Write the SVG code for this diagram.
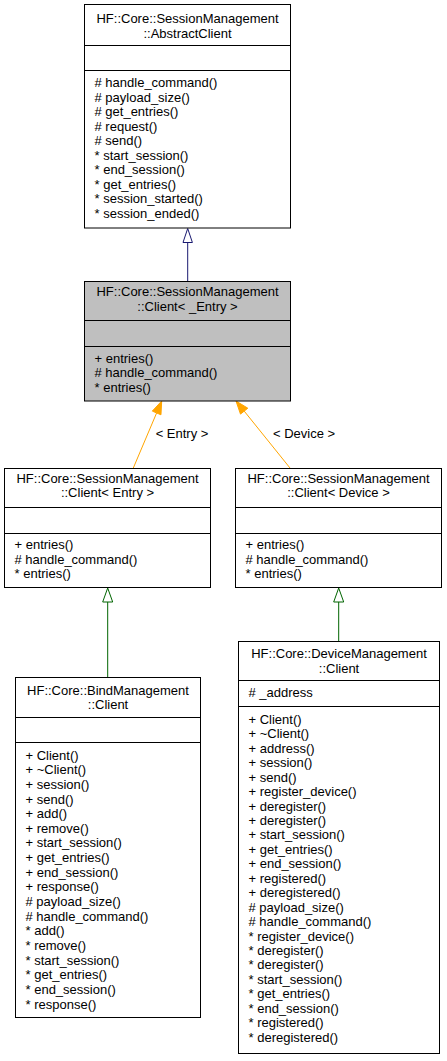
<svg xmlns="http://www.w3.org/2000/svg" width="447" height="1061" viewBox="0 0 447 1061">
<style>
text{font-family:"Liberation Sans",Arial,Helvetica,sans-serif;font-size:13px;fill:#000}
.c{text-anchor:middle}
.box{fill:#fff;stroke:#000;stroke-width:1}
.gray{fill:#bfbfbf}
.div{stroke:#000;stroke-width:1}
.navy{stroke:#191970;stroke-width:1;fill:none}
.navyh{stroke:#191970;stroke-width:1;fill:#fff}
.org{stroke:#ffa500;stroke-width:1;fill:none}
.orgh{stroke:#ffa500;stroke-width:1;fill:#ffa500}
.grn{stroke:#006400;stroke-width:1;fill:none}
.grnh{stroke:#006400;stroke-width:1;fill:#fff}
</style>
<rect width="447" height="1061" fill="#fff"/>
<g id="connectors">
<line class="navy" x1="187.7" y1="242.5" x2="187.7" y2="281"/>
<polygon class="navyh" points="187.7,228.5 183,242.5 192.4,242.5"/>
<line class="org" x1="133.3" y1="468" x2="156.6" y2="413"/>
<polygon class="orgh" points="161.7,401 160.95,414.8 152.3,411.1"/>
<text class="c" x="182" y="438">&lt; Entry &gt;</text>
<line class="org" x1="290" y1="468" x2="244.2" y2="411.1"/>
<polygon class="orgh" points="236,401 247.8,408.2 240.5,414.1"/>
<text class="c" x="304" y="438">&lt; Device &gt;</text>
<line class="grn" x1="107.7" y1="602" x2="107.7" y2="677.5"/>
<polygon class="grnh" points="107.7,588 102.7,602 112.7,602"/>
<line class="grn" x1="338.7" y1="602" x2="338.7" y2="641.5"/>
<polygon class="grnh" points="338.7,588 333.7,602 343.7,602"/>
</g>
<g id="AbstractClient">
<rect class="box" x="84.5" y="4.5" width="206" height="223.5"/>
<line class="div" x1="84.5" y1="45.5" x2="290.5" y2="45.5"/>
<line class="div" x1="84.5" y1="70.5" x2="290.5" y2="70.5"/>
<text class="c" x="187.5" y="23">HF::Core::SessionManagement</text>
<text class="c" x="187.5" y="37.5">::AbstractClient</text>
<text x="94.5" y="87"># handle_command()</text>
<text x="94.5" y="101.5"># payload_size()</text>
<text x="94.5" y="116"># get_entries()</text>
<text x="94.5" y="130.5"># request()</text>
<text x="94.5" y="145"># send()</text>
<text x="94.5" y="159.5">* start_session()</text>
<text x="94.5" y="174">* end_session()</text>
<text x="94.5" y="188.5">* get_entries()</text>
<text x="94.5" y="203">* session_started()</text>
<text x="94.5" y="217.5">* session_ended()</text>
</g>
<g id="ClientTemplate">
<rect class="box gray" x="84.5" y="281.5" width="206" height="119.5"/>
<line class="div" x1="84.5" y1="320.5" x2="290.5" y2="320.5"/>
<line class="div" x1="84.5" y1="346.5" x2="290.5" y2="346.5"/>
<text class="c" x="187.5" y="296">HF::Core::SessionManagement</text>
<text class="c" x="187.5" y="310.5">::Client&lt; _Entry &gt;</text>
<text x="94.5" y="362.5">+ entries()</text>
<text x="94.5" y="377"># handle_command()</text>
<text x="94.5" y="391.5">* entries()</text>
</g>
<g id="ClientEntry">
<rect class="box" x="4.5" y="468.5" width="206" height="119"/>
<line class="div" x1="4.5" y1="507.5" x2="210.5" y2="507.5"/>
<line class="div" x1="4.5" y1="533.5" x2="210.5" y2="533.5"/>
<text class="c" x="107.5" y="482.5">HF::Core::SessionManagement</text>
<text class="c" x="107.5" y="497">::Client&lt; Entry &gt;</text>
<text x="14.5" y="549">+ entries()</text>
<text x="14.5" y="563.5"># handle_command()</text>
<text x="14.5" y="578">* entries()</text>
</g>
<g id="ClientDevice">
<rect class="box" x="235.5" y="468.5" width="206" height="119"/>
<line class="div" x1="235.5" y1="507.5" x2="441.5" y2="507.5"/>
<line class="div" x1="235.5" y1="533.5" x2="441.5" y2="533.5"/>
<text class="c" x="338.5" y="482.5">HF::Core::SessionManagement</text>
<text class="c" x="338.5" y="497">::Client&lt; Device &gt;</text>
<text x="245.5" y="549">+ entries()</text>
<text x="245.5" y="563.5"># handle_command()</text>
<text x="245.5" y="578">* entries()</text>
</g>
<g id="BindClient">
<rect class="box" x="15.5" y="677.5" width="185" height="340"/>
<line class="div" x1="15.5" y1="717.5" x2="200.5" y2="717.5"/>
<line class="div" x1="15.5" y1="742.5" x2="200.5" y2="742.5"/>
<text class="c" x="108" y="694.5">HF::Core::BindManagement</text>
<text class="c" x="108" y="709">::Client</text>
<text x="25.5" y="759.5">+ Client()</text>
<text x="25.5" y="774.2">+ ~Client()</text>
<text x="25.5" y="788.8">+ session()</text>
<text x="25.5" y="803.5">+ send()</text>
<text x="25.5" y="818.1">+ add()</text>
<text x="25.5" y="832.8">+ remove()</text>
<text x="25.5" y="847.4">+ start_session()</text>
<text x="25.5" y="862.1">+ get_entries()</text>
<text x="25.5" y="876.7">+ end_session()</text>
<text x="25.5" y="891.4">+ response()</text>
<text x="25.5" y="906"># payload_size()</text>
<text x="25.5" y="920.7"># handle_command()</text>
<text x="25.5" y="935.3">* add()</text>
<text x="25.5" y="950">* remove()</text>
<text x="25.5" y="964.6">* start_session()</text>
<text x="25.5" y="979.3">* get_entries()</text>
<text x="25.5" y="993.9">* end_session()</text>
<text x="25.5" y="1008.6">* response()</text>
</g>
<g id="DeviceClient">
<rect class="box" x="238.5" y="641.5" width="201" height="412"/>
<line class="div" x1="238.5" y1="680.5" x2="439.5" y2="680.5"/>
<line class="div" x1="238.5" y1="706.5" x2="439.5" y2="706.5"/>
<text class="c" x="339" y="658">HF::Core::DeviceManagement</text>
<text class="c" x="339" y="672.5">::Client</text>
<text x="248.5" y="697"># _address</text>
<text x="248.5" y="724">+ Client()</text>
<text x="248.5" y="738.4">+ ~Client()</text>
<text x="248.5" y="752.9">+ address()</text>
<text x="248.5" y="767.3">+ session()</text>
<text x="248.5" y="781.7">+ send()</text>
<text x="248.5" y="796.2">+ register_device()</text>
<text x="248.5" y="810.6">+ deregister()</text>
<text x="248.5" y="825">+ deregister()</text>
<text x="248.5" y="839.4">+ start_session()</text>
<text x="248.5" y="853.9">+ get_entries()</text>
<text x="248.5" y="868.3">+ end_session()</text>
<text x="248.5" y="882.7">+ registered()</text>
<text x="248.5" y="897.2">+ deregistered()</text>
<text x="248.5" y="911.6"># payload_size()</text>
<text x="248.5" y="926"># handle_command()</text>
<text x="248.5" y="940.5">* register_device()</text>
<text x="248.5" y="954.9">* deregister()</text>
<text x="248.5" y="969.3">* deregister()</text>
<text x="248.5" y="983.7">* start_session()</text>
<text x="248.5" y="998.2">* get_entries()</text>
<text x="248.5" y="1012.6">* end_session()</text>
<text x="248.5" y="1027">* registered()</text>
<text x="248.5" y="1041.5">* deregistered()</text>
</g>
</svg>
